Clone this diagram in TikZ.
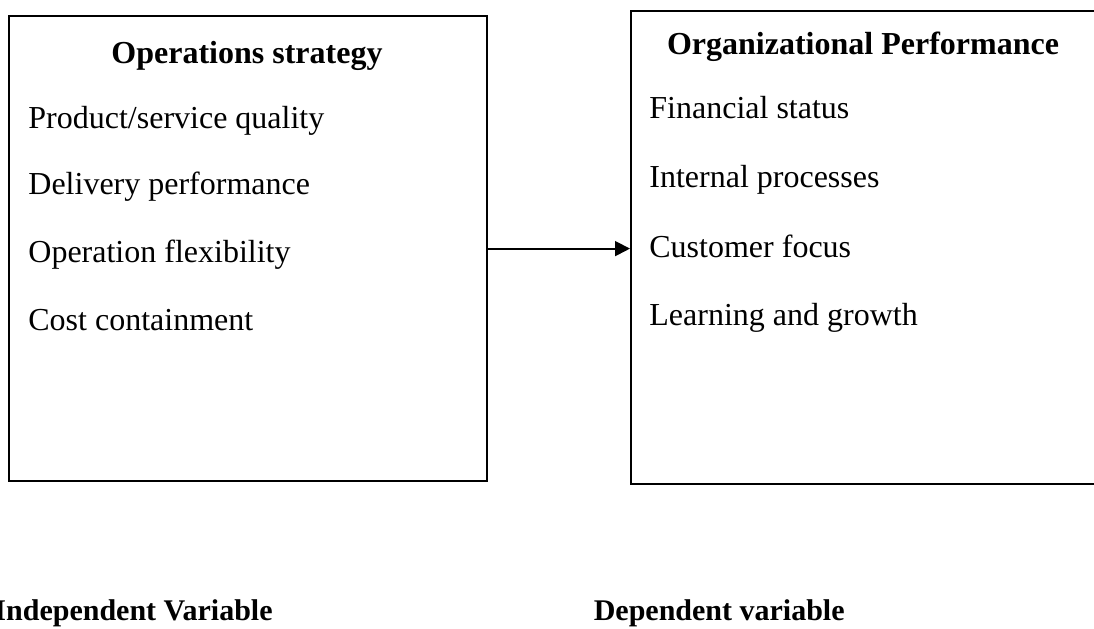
\documentclass[tikz,border=0pt]{standalone}
\usepackage{fontspec}
\setmainfont{Liberation Serif}
\usetikzlibrary{arrows.meta}
\begin{document}
\begin{tikzpicture}[x=0.5pt,y=-0.5pt,
  varbox/.style={draw, line width=1.1pt, inner sep=0pt, anchor=north west},
  item/.style={anchor=base west, inner sep=0pt, font=\fontsize{16}{19}\selectfont},
  head/.style={anchor=base, inner sep=0pt, font=\fontsize{16}{19}\selectfont\bfseries},
  caption/.style={anchor=base east, inner sep=0pt, font=\fontsize{15}{18}\selectfont\bfseries},
  link/.style={line width=0.9pt, -{Triangle[length=7.5pt,width=7.5pt]}}]
\useasboundingbox (0,0) rectangle (1094,628);

% independent variable box
\node[varbox, minimum width=239pt, minimum height=232.5pt] (L) at (8,15) {};
\node[head] (Lh) at (247,63) {Operations strategy};
\node[item] (L1) at (28,128) {Product/service quality};
\node[item] (L2) at (28,194) {Delivery performance};
\node[item] (L3) at (28,262) {Operation flexibility};
\node[item] (L4) at (28,330) {Cost containment};

% dependent variable box
\node[varbox, minimum width=233pt, minimum height=236.5pt] (R) at (630,10) {};
\node[head] (Rh) at (863,54) {Organizational Performance};
\node[item] (R1) at (649,118) {Financial status};
\node[item] (R2) at (649,187) {Internal processes};
\node[item] (R3) at (649,257) {Customer focus};
\node[item] (R4) at (649,325) {Learning and growth};

% relationship
\draw[link] (L.east) -- (L.east -| R.west);

% captions
\node[caption] (Lc) at (273,620) {Independent Variable};
\node[caption] (Rc) at (845,620) {Dependent variable};
\end{tikzpicture}
\end{document}
